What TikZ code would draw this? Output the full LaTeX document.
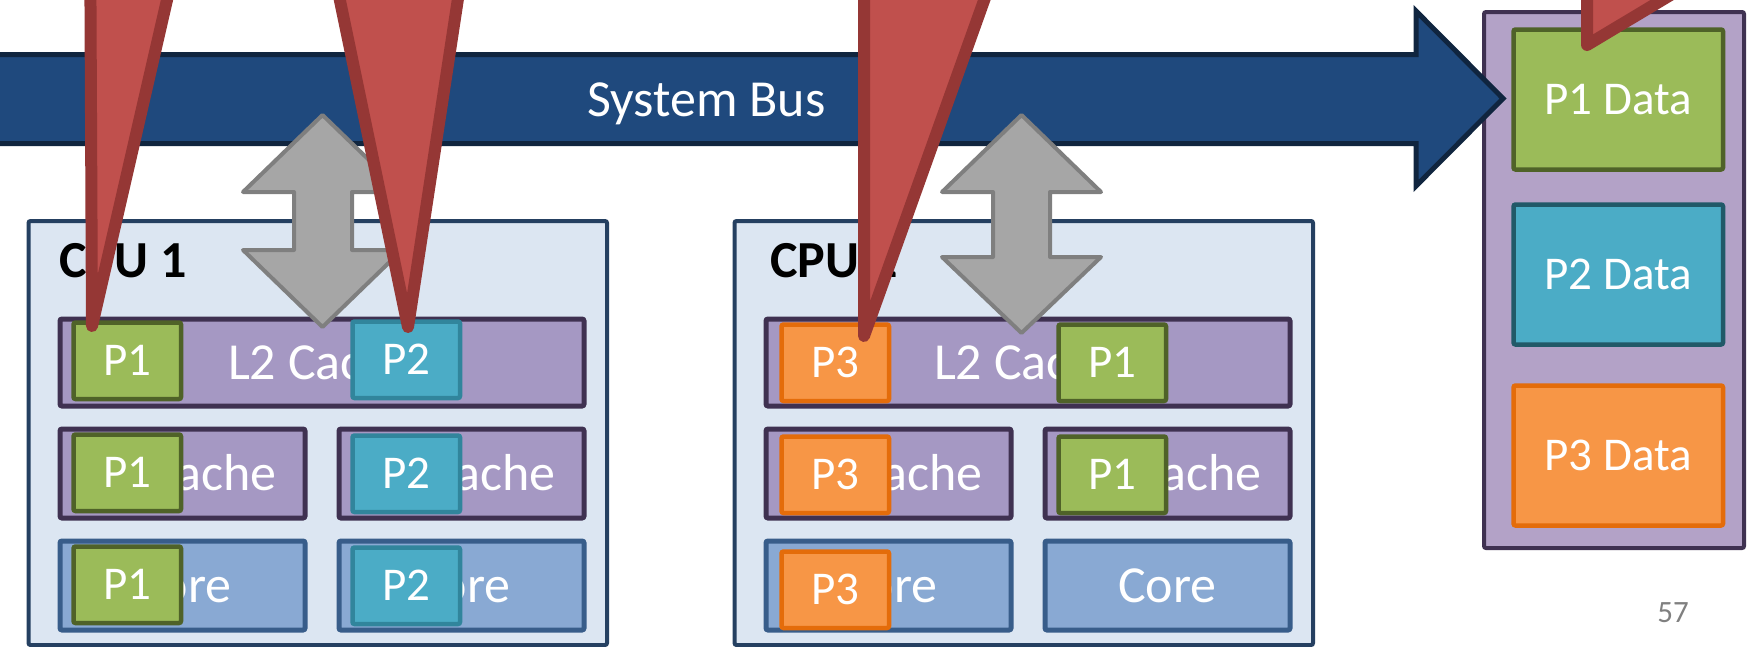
\documentclass[tikz,border=0pt]{standalone}
\usepackage{fontspec}
\setmainfont{Carlito}
\definecolor{cpufill}{HTML}{DCE6F2}
\definecolor{cpuline}{HTML}{254061}
\definecolor{cachefill}{HTML}{A598C3}
\definecolor{cacheline}{HTML}{3F3151}
\definecolor{memfill}{HTML}{B3A2C7}
\definecolor{corefill}{HTML}{89A9D3}
\definecolor{coreline}{HTML}{385D8A}
\definecolor{pAfill}{HTML}{9BBB59}
\definecolor{pAline}{HTML}{4F6228}
\definecolor{pBfill}{HTML}{4BACC6}
\definecolor{pBline}{HTML}{31859C}
\definecolor{pBdark}{HTML}{215968}
\definecolor{pCfill}{HTML}{F79646}
\definecolor{pCline}{HTML}{E46C0A}
\definecolor{busfill}{HTML}{1F497D}
\definecolor{busline}{HTML}{10253F}
\definecolor{redfill}{HTML}{C0504D}
\definecolor{redline}{HTML}{953735}
\definecolor{arrfill}{HTML}{A6A6A6}
\definecolor{arrline}{HTML}{7F7F7F}
\definecolor{pagenum}{HTML}{808080}
\tikzset{
  sz/.style 2 args={minimum width=#1pt, minimum height=#2pt},
  blk/.style={anchor=north west, inner sep=0pt, rounded corners=2pt,
    text=white, text depth=0pt},
  bigfont/.style={font=\fontsize{52}{60}\selectfont},
  big/.style={bigfont, text height=33pt},
  small/.style={font=\fontsize{47}{54}\selectfont, text height=30pt},
  cpubox/.style={blk, draw=cpuline, fill=cpufill, line width=4pt},
  cachebox/.style={blk, big, draw=cacheline, fill=cachefill, line width=5pt},
  corebox/.style={blk, big, draw=coreline, fill=corefill, line width=5pt},
  pone/.style={blk, small, sz={107.5}{76.5}, draw=pAline, fill=pAfill, line width=4.5pt},
  ptwo/.style={blk, small, sz={107.5}{76.5}, draw=pBline, fill=pBfill, line width=4.5pt},
  pthree/.style={blk, small, sz={107.5}{76.5}, draw=pCline, fill=pCfill, line width=4.5pt},
  membox/.style={blk, draw=cacheline, fill=memfill, line width=4pt},
  databox/.style={blk, small, sz={209.5}{140}, line width=4.5pt},
  cpulabel/.style={anchor=base west, inner sep=0pt,
    font=\fontsize{52}{60}\selectfont\bfseries},
  bus/.style={draw=busline, fill=busfill, line width=5pt, line join=miter},
  dblarrow/.style={draw=arrline, fill=arrfill, line width=4pt, line join=round},
  pointer/.style={draw=redline, fill=redfill, line width=12pt, line join=round}
}
\begin{document}
\begin{tikzpicture}[x=1pt, y=-1pt]
\useasboundingbox (0,0) rectangle (1747,646);
\clip (0,0) rectangle (1747,646);

% CPU 1
\node[cpubox, sz={578.5}{424}] (cpuA) at (26.5,219) {};
\node[cachebox, sz={524}{87}] (ltwoA) at (57.5,316.5) {L2 Cache};
\node[cachebox, sz={245}{89}] (loneAa) at (57.5,426.5) {L1 Cache};
\node[cachebox, sz={245}{89}] (loneAb) at (336.5,426.5) {L1 Cache};
\node[corebox, sz={245}{89}] (coreAa) at (57.5,538.5) {Core};
\node[corebox, sz={245}{89}] (coreAb) at (336.5,538.5) {Core};
\node[pone] (pAl2) at (71.25,320.25) {P1};
\node[pone] (pAl1) at (71.25,432.25) {P1};
\node[pone] (pAc) at (71.25,544.25) {P1};
\node[ptwo] (pBl2) at (350.25,319.25) {P2};
\node[ptwo] (pBl1) at (350.25,433.25) {P2};
\node[ptwo] (pBc) at (350.25,545.25) {P2};
\node[cpulabel] (labA) at (59,277) {CPU 1};

% CPU 2
\begin{scope}[xshift=706pt]
\node[cpubox, sz={578.5}{424}] (cpuB) at (26.5,219) {};
\node[cachebox, sz={524}{87}] (ltwoB) at (57.5,316.5) {L2 Cache};
\node[cachebox, sz={245}{89}] (loneBa) at (57.5,426.5) {L1 Cache};
\node[cachebox, sz={245}{89}] (loneBb) at (336.5,426.5) {L1 Cache};
\node[corebox, sz={245}{89}] (coreBa) at (57.5,538.5) {Core};
\node[corebox, sz={245}{89}] (coreBb) at (336.5,538.5) {Core};
\node[pthree] (pCl2) at (73.25,322.25) {P3};
\node[pthree] (pCl1) at (73.25,434.25) {P3};
\node[pthree] (pCc) at (73.25,549.25) {P3};
\node[pone] (pDl2) at (350.25,322.25) {P1};
\node[pone] (pDl1) at (350.25,434.25) {P1};
\node[cpulabel] (labB) at (64,277) {CPU 2};
\end{scope}

% main memory
\node[membox, sz={260}{536}] (mem) at (1482,10) {};
\node[databox, draw=pAline, fill=pAfill] (dA) at (1511.25,27.25) {P1 Data};
\node[databox, draw=pBdark, fill=pBfill] (dB) at (1511.25,202.25) {P2 Data};
\node[databox, draw=pCline, fill=pCfill] (dC) at (1511.25,383.25) {P3 Data};

% system bus
\draw[bus] (-20,54.5) -- (1416,54.5) -- (1416,11) -- (1503,98.5)
  -- (1416,186) -- (1416,143.5) -- (-20,143.5) -- cycle;
\node[anchor=base, inner sep=0pt, text=white, bigfont] (bustext) at (706.5,116) {System Bus};

% bus <-> L2 transfers
\draw[dblarrow] (322.5,115) -- (402,192) -- (352,192) -- (352,250) -- (402,250)
  -- (322.5,327) -- (243,250) -- (294,250) -- (294,192) -- (243,192) -- cycle;
\draw[dblarrow] (1021.5,115) -- (1101,192) -- (1050,192) -- (1050,257) -- (1101,257)
  -- (1021.5,333) -- (942,257) -- (993,257) -- (993,192) -- (942,192) -- cycle;

% pointers
\draw[pointer] (90,-100) -- (92,326) -- (190,-100) -- cycle;
\draw[pointer] (319,-100) -- (408,327) -- (473,-100) -- cycle;
\draw[pointer] (864,-100) -- (864,336) -- (1020,-100) -- cycle;
\draw[pointer] (1587,-100) -- (1587,45) -- (1829,-100) -- cycle;

% page number
\node[anchor=base, inner sep=0pt, text=pagenum, font=\fontsize{31}{36}\selectfont] (pg) at (1673,622) {57};
\end{tikzpicture}
\end{document}
